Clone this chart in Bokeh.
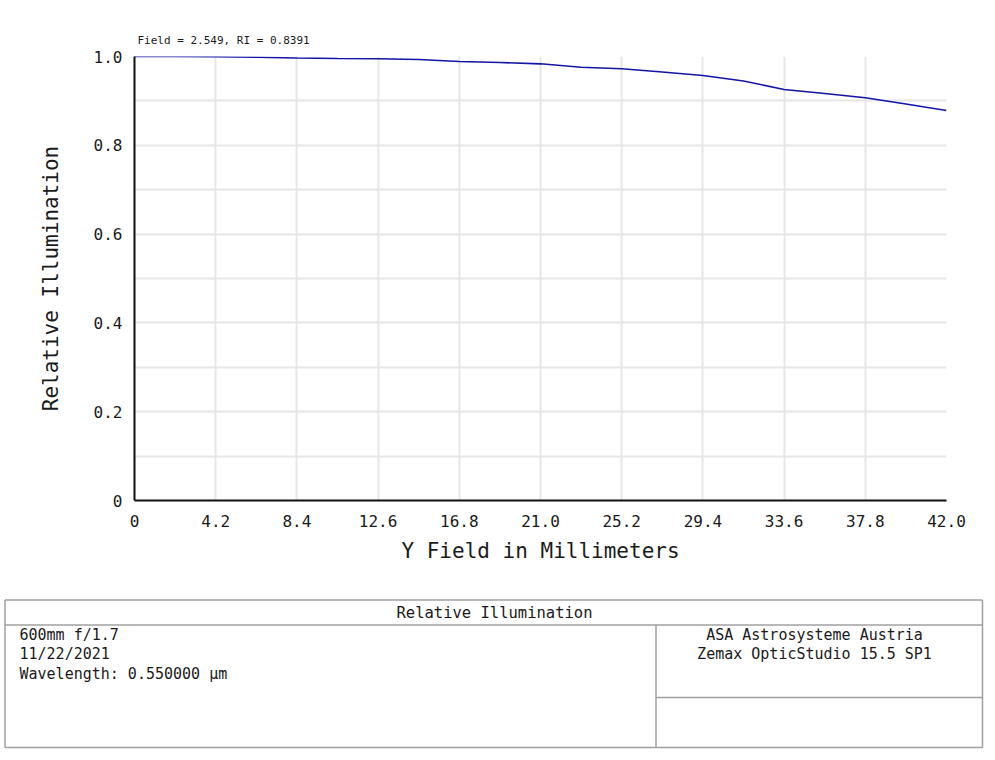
from bokeh.plotting import figure
from bokeh.models import Range1d, FixedTicker
from bokeh.layouts import column
from bokeh.embed import file_html
from bokeh.resources import INLINE
from bokeh.core.properties import value

# ---- data ----
field_mm = [0.0, 2.1, 4.2, 6.3, 8.4, 10.5, 12.6, 14.7, 16.8, 18.9, 21.0,
            23.1, 25.2, 27.3, 29.4, 31.5, 33.6, 35.7, 37.8, 39.9, 42.0]
rel_illum = [1.0, 1.0, 0.9993, 0.9982, 0.9966, 0.9955, 0.9948, 0.9932, 0.9887, 0.9865, 0.9835,
             0.9759, 0.9723, 0.9651, 0.9572, 0.9448, 0.9257, 0.9167, 0.9070, 0.8930, 0.8784]

x_ticks = [0.0, 4.2, 8.4, 12.6, 16.8, 21.0, 25.2, 29.4, 33.6, 37.8, 42.0]
x_tick_labels = ["0", "4.2", "8.4", "12.6", "16.8", "21.0", "25.2", "29.4", "33.6", "37.8", "42.0"]
y_ticks = [0.0, 0.2, 0.4, 0.6, 0.8, 1.0]
y_tick_labels = ["0", "0.2", "0.4", "0.6", "0.8", "1.0"]
y_grid_ticks = [0.0, 0.1, 0.2, 0.3, 0.4, 0.5, 0.6, 0.7, 0.8, 0.9, 1.0]

x_label = "Y Field in Millimeters"
y_label = "Relative Illumination"
cursor_text = "Field = 2.549, RI = 0.8391"

table_title = "Relative Illumination"
table_left_lines = ["600mm f/1.7", "11/22/2021", "Wavelength: 0.550000 \u00b5m"]
table_right_lines = ["ASA Astrosysteme Austria", "Zemax OpticStudio 15.5 SP1"]

MONO = "DejaVu Sans Mono"
TXT = "#1a1a1a"
W = 990

# ---- main plot ----
p = figure(width=W, height=568, output_backend="svg", toolbar_location=None,
           x_range=Range1d(0, 42), y_range=Range1d(0, 1.0),
           min_border_left=134, min_border_right=W - 946, min_border_top=56, min_border_bottom=68,
           title=cursor_text, frame_align=False)
p.outline_line_color = None
p.background_fill_color = "white"
p.border_fill_color = "white"
p.title.text_font = MONO
p.title.text_font_size = "11px"
p.title.text_font_style = "normal"
p.title.text_color = TXT
p.title.align = "left"
p.title.offset = 3
p.title.standoff = 20

p.line(field_mm, rel_illum, line_color="#1414a8", line_width=1.6)

p.xaxis.ticker = FixedTicker(ticks=x_ticks)
p.xaxis.major_label_overrides = {t: l for t, l in zip(x_ticks, x_tick_labels)}
p.yaxis.ticker = FixedTicker(ticks=y_ticks)
p.yaxis.major_label_overrides = {t: l for t, l in zip(y_ticks, y_tick_labels)}
p.xgrid.ticker = FixedTicker(ticks=x_ticks)
p.ygrid.ticker = FixedTicker(ticks=y_grid_ticks)
for g in (p.xgrid, p.ygrid):
    g.grid_line_color = "#e6e6e6"
    g.grid_line_width = 2

for ax in (p.xaxis, p.yaxis):
    ax.axis_line_color = "#111111"
    ax.axis_line_width = 2
    ax.major_tick_line_color = None
    ax.minor_tick_line_color = None
    ax.major_label_text_font = MONO
    ax.major_label_text_font_size = "16px"
    ax.major_label_text_color = TXT
    ax.axis_label_text_font = MONO
    ax.axis_label_text_font_size = "21px"
    ax.axis_label_text_font_style = "normal"
    ax.axis_label_text_color = TXT

p.xaxis.axis_label = x_label
p.yaxis.axis_label = y_label
p.xaxis.major_label_standoff = 8
p.yaxis.major_label_standoff = 6
p.xaxis.axis_label_standoff = 9
p.yaxis.axis_label_standoff = 28

# ---- info table below ----
t = figure(width=W, height=188, output_backend="svg", toolbar_location=None,
           x_range=Range1d(0, W), y_range=Range1d(756, 568),
           x_axis_type=None, y_axis_type=None, min_border=0, frame_align=False)
t.outline_line_color = None
t.xgrid.visible = False
t.ygrid.visible = False

L, R, TOP, HDR, BOT, MID, RMID = 4.5, 982, 599.5, 624.5, 747, 655.5, 697
t.segment(x0=[L, L, L, L, R, MID, MID], y0=[TOP, HDR, BOT, TOP, TOP, HDR, RMID],
          x1=[R, R, R, L, R, MID, R], y1=[TOP, HDR, BOT, BOT, BOT, BOT, RMID],
          line_color="#a0a0a0", line_width=1.5)

t.text(x=[494], y=[612], text=[table_title], text_font=value(MONO), text_font_size="15.5px",
       text_color=TXT, text_align="center", text_baseline="middle")
t.text(x=[19] * len(table_left_lines), y=[634 + 19.5 * i for i in range(len(table_left_lines))],
       text=table_left_lines, text_font=value(MONO), text_font_size="15px",
       text_color=TXT, text_align="left", text_baseline="middle")
t.text(x=[814] * len(table_right_lines), y=[634 + 19.5 * i for i in range(len(table_right_lines))],
       text=table_right_lines, text_font=value(MONO), text_font_size="15px",
       text_color=TXT, text_align="center", text_baseline="middle")

layout = column(p, t, spacing=0)
open("out.html", "w").write(file_html(layout, INLINE))
